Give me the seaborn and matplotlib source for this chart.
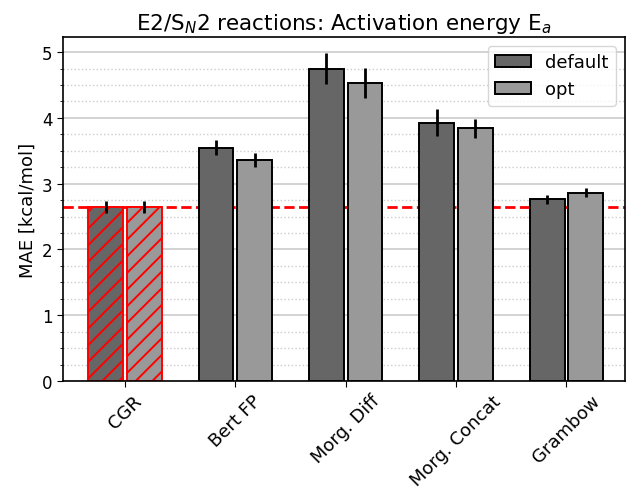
import numpy as np
import pandas as pd
import matplotlib
matplotlib.use("Agg")
import matplotlib.pyplot as plt
import seaborn as sns
from matplotlib.ticker import MultipleLocator

categories = ["CGR", "Bert FP", "Morg. Diff", "Morg. Concat", "Grambow"]
default_mae = [2.64, 3.55, 4.75, 3.93, 2.76]
default_err = [0.09, 0.12, 0.23, 0.20, 0.07]
opt_mae = [2.64, 3.36, 4.53, 3.84, 2.86]
opt_err = [0.09, 0.10, 0.23, 0.14, 0.07]
series = ["default", "opt"]
baseline = 2.64

df = pd.DataFrame({
    "model": categories * 2,
    "MAE": default_mae + opt_mae,
    "err": default_err + opt_err,
    "setting": ["default"] * len(categories) + ["opt"] * len(categories),
})

sns.set_style("ticks", rc={
    "text.color": "black", "axes.labelcolor": "black",
    "xtick.color": "black", "ytick.color": "black",
    "axes.edgecolor": "black",
})
plt.rcParams["font.family"] = ["DejaVu Sans"]
plt.rcParams["hatch.linewidth"] = 1.4

fig = plt.figure(figsize=(6.26, 4.89), dpi=100)
ax = fig.add_axes([63 / 626, (489 - 382) / 489, (625 - 63) / 626, (382 - 38) / 489])

sns.barplot(data=df, x="model", y="MAE", hue="setting", hue_order=series,
            palette=["#666666", "#999999"], width=0.7, gap=0.1,
            edgecolor="black", linewidth=1.4, errorbar=None, ax=ax, zorder=2)

for j, s in enumerate(series):
    sub = df[df["setting"] == s].reset_index(drop=True)
    cont = ax.containers[j]
    for i, rect in enumerate(cont):
        xc = rect.get_x() + rect.get_width() / 2
        ax.errorbar(xc, sub.loc[i, "MAE"], yerr=sub.loc[i, "err"], fmt="none",
                    ecolor="black", elinewidth=2, capsize=0, zorder=3)
        if sub.loc[i, "model"] == "CGR":
            rect.set_edgecolor("red")
            rect.set_hatch("//")

ax.axhline(baseline, color="red", linestyle="--", linewidth=2, zorder=1)

ax.set_xlim(-0.56, 4.53)
ax.set_ylim(0, 5.23)
ax.yaxis.set_major_locator(MultipleLocator(1))
ax.yaxis.set_minor_locator(MultipleLocator(0.25))
ax.set_axisbelow(True)
ax.grid(axis="y", which="major", color="#cccccc", linewidth=1.2)
ax.grid(axis="y", which="minor", color="#cccccc", linestyle=":", linewidth=1.0)
ax.tick_params(axis="y", which="major", labelsize=12, length=4)
ax.tick_params(axis="x", which="major", labelsize=13, length=4)
ax.tick_params(axis="y", which="minor", length=2)
plt.setp(ax.get_xticklabels(), rotation=45, ha="center")
ax.set_xlabel("")
ax.set_ylabel("MAE [kcal/mol]", fontsize=13)
ax.set_title(r"E2/S$_N$2 reactions: Activation energy E$_a$", fontsize=15.5)
for sp in ax.spines.values():
    sp.set_linewidth(1.2)

leg = ax.legend(loc="upper right", fontsize=13, frameon=True, framealpha=0.8)
leg.set_title(None)

fig.savefig("out.png", dpi=100)
